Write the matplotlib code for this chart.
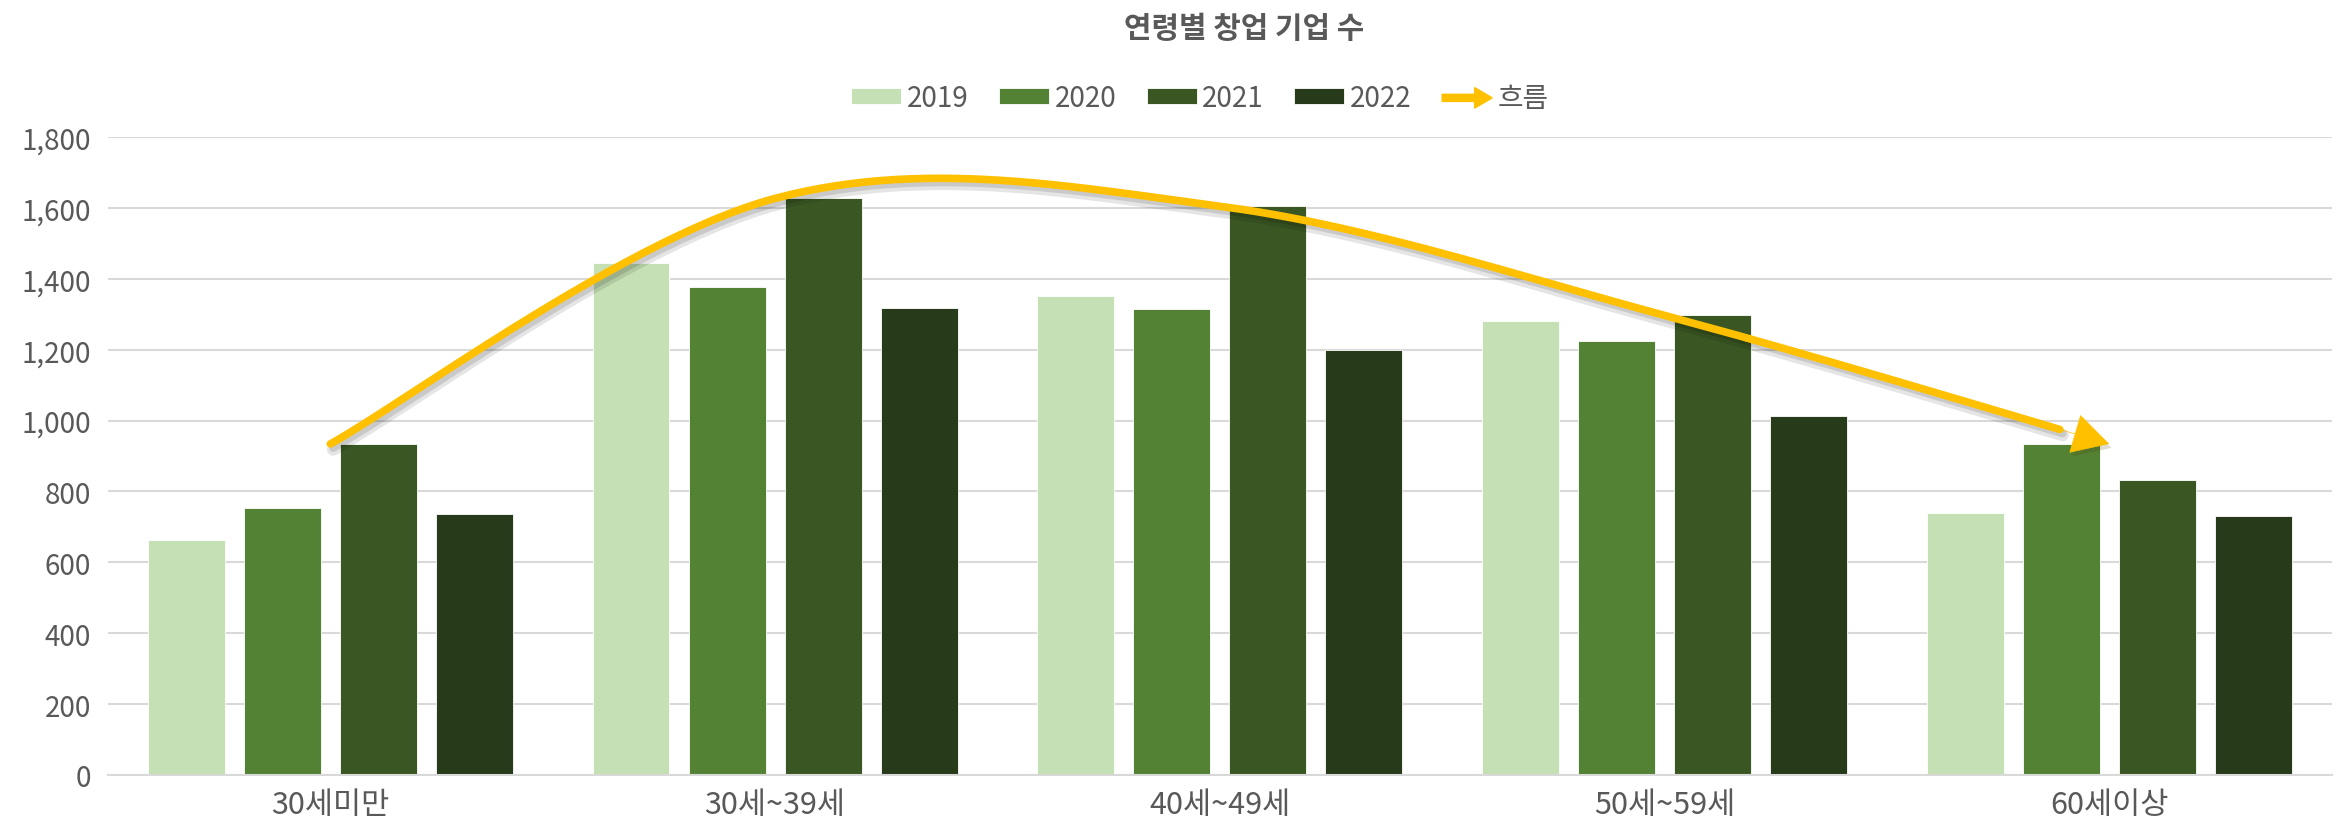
import numpy as np
import matplotlib
matplotlib.use("Agg")
import matplotlib.pyplot as plt
import matplotlib.patches as mpatches
import matplotlib.patheffects as pe
from matplotlib.legend_handler import HandlerPatch

plt.rcParams['font.family'] = ['Noto Sans CJK KR', 'DejaVu Sans']

# data
categories = ['30세미만', '30세~39세', '40세~49세', '50세~59세', '60세이상']
years = ['2019', '2020', '2021', '2022']
v2019 = [663, 1445, 1352, 1280, 739]
v2020 = [752, 1377, 1314, 1225, 934]
v2021 = [934, 1627, 1605, 1297, 832]
v2022 = [735, 1318, 1200, 1014, 731]
flow = [934, 1627, 1605, 1297, 934]   # 흐름 (max of each group)

colors = ['#C5E0B4', '#548235', '#3A5723', '#273B1B']
yellow = '#FFC000'
gray = '#595959'


def smooth(xs, ys, n=60):
    # Excel-like smoothed line: cubic bezier, tangents from neighbours / 6
    xs = np.asarray(xs, float)
    ys = np.asarray(ys, float)
    pts = np.column_stack([xs, ys])
    out = []
    for i in range(len(pts) - 1):
        p0 = pts[max(i - 1, 0)]
        p1 = pts[i]
        p2 = pts[i + 1]
        p3 = pts[min(i + 2, len(pts) - 1)]
        c1 = p1 + (p2 - p0) / 6
        c2 = p2 - (p3 - p1) / 6
        t = np.linspace(0, 1, n)[:, None]
        seg = ((1 - t) ** 3 * p1 + 3 * (1 - t) ** 2 * t * c1
               + 3 * (1 - t) * t ** 2 * c2 + t ** 3 * p2)
        out.append(seg if i == 0 else seg[1:])
    return np.vstack(out)


fig = plt.figure(figsize=(23.48, 8.37), dpi=100)
ax = fig.add_axes([0.046, 0.073, 0.947, 0.762])

x = np.arange(len(categories))
pitch = 0.216
width = 0.173
for i, (yr, vals) in enumerate(zip(years, [v2019, v2020, v2021, v2022])):
    ax.bar(x + (i - 1.5) * pitch, vals, width, color=colors[i], label=yr,
           edgecolor='#ffffff', linewidth=0.6, zorder=2)

# flow line with arrow
curve = smooth(x, flow)
shadow = [pe.SimpleLineShadow(offset=(2, -4), shadow_color='black', alpha=0.10, linewidth=9),
          pe.SimpleLineShadow(offset=(2, -3), shadow_color='black', alpha=0.12),
          pe.Normal()]
k = 13
ax.plot(curve[:-k + 3, 0], curve[:-k + 3, 1], color=yellow, lw=5.5,
        solid_capstyle='round', zorder=4, path_effects=shadow)
ax.annotate('', xy=curve[-1], xytext=curve[-k],
            arrowprops=dict(arrowstyle='-|>,head_length=1.0,head_width=0.55',
                            color=yellow, lw=0.5, mutation_scale=25,
                            shrinkA=0, shrinkB=0,
                            path_effects=[pe.SimplePatchShadow(offset=(2, -3), alpha=0.18),
                                          pe.Normal()]),
            zorder=4)

ax.set_xlim(-0.5, len(categories) - 0.5)
ax.set_ylim(0, 1800)
ax.set_yticks(np.arange(0, 1801, 200))
ax.yaxis.set_major_formatter(matplotlib.ticker.FuncFormatter(lambda v, p: f'{int(v):,}'))
ax.set_xticks(x)
ax.set_xticklabels(categories)
ax.grid(axis='y', color='#D9D9D9', lw=1.5, zorder=0)
ax.set_axisbelow(True)
for s in ['top', 'right', 'left']:
    ax.spines[s].set_visible(False)
ax.spines['bottom'].set_color('#D9D9D9')
ax.spines['bottom'].set_linewidth(1.5)
ax.tick_params(axis='both', length=0, labelsize=20, labelcolor=gray, pad=12)
ax.tick_params(axis='x', labelsize=22, pad=10)
for lab in ax.get_xticklabels() + ax.get_yticklabels():
    lab.set_fontweight('light')

fig.text(0.53, 0.965, '연령별 창업 기업 수', ha='center', va='center',
         fontsize=21.5, fontweight='bold', color=gray)


def make_arrow(legend, orig_handle, xdescent, ydescent, width, height, fontsize):
    return mpatches.FancyArrow(0, height / 2, width, 0, width=height * 0.45,
                               head_width=height * 1.3, head_length=width * 0.35,
                               length_includes_head=True, color=yellow)


handles, labels = ax.get_legend_handles_labels()
arrow_h = mpatches.FancyArrow(0, 0, 1, 0, color=yellow)
handles.append(arrow_h)
labels.append('흐름')
leg = fig.legend(handles, labels, loc='center', bbox_to_anchor=(0.511, 0.882),
                 ncol=5, frameon=False, fontsize=20, handlelength=1.8,
                 handleheight=0.5, handletextpad=0.2, columnspacing=1.1,
                 handler_map={mpatches.FancyArrow: HandlerPatch(patch_func=make_arrow)})
for t in leg.get_texts():
    t.set_color(gray)
    t.set_fontweight('light')

fig.savefig('out.png', dpi=100)
